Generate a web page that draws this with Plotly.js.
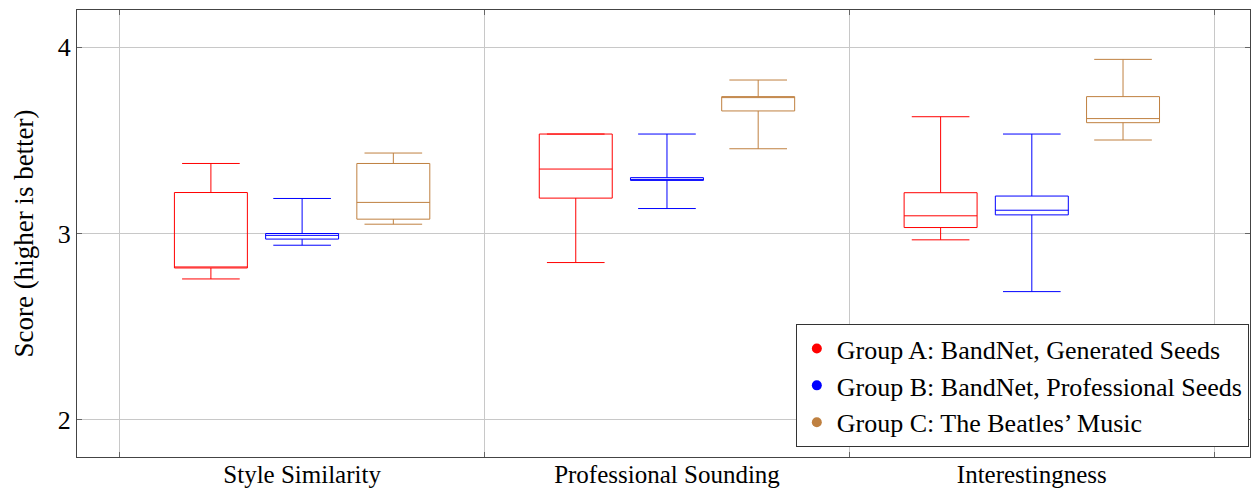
<!DOCTYPE html>
<html>
<head>
<meta charset="utf-8">
<script src="https://cdn.plot.ly/plotly-3.0.1.min.js"></script>
<style>html,body{margin:0;padding:0;background:#fff;}#chart{width:1255px;height:491px;}</style>
</head>
<body>
<div id="chart"></div>
<script>
const categories = ["Style Similarity", "Professional Sounding", "Interestingness"];
const groupNames = ["Group A: BandNet, Generated Seeds", "Group B: BandNet, Professional Seeds", "Group C: The Beatles\u2019 Music"];
const groupColors = ["#ff0000", "#0000ff", "#bf8040"];

// per group: values for [Style Similarity, Professional Sounding, Interestingness]
const groupA_lower  = [2.756, 2.844, 2.966];
const groupA_q1     = [2.815, 3.190, 3.032];
const groupA_median = [2.815, 3.346, 3.095];
const groupA_q3     = [3.220, 3.534, 3.219];
const groupA_upper  = [3.376, 3.534, 3.627];

const groupB_lower  = [2.937, 3.134, 2.688];
const groupB_q1     = [2.970, 3.285, 3.100];
const groupB_median = [2.990, 3.290, 3.125];
const groupB_q3     = [3.000, 3.300, 3.201];
const groupB_upper  = [3.188, 3.534, 3.534];

const groupC_lower  = [3.050, 3.455, 3.502];
const groupC_q1     = [3.077, 3.658, 3.595];
const groupC_median = [3.167, 3.735, 3.617];
const groupC_q3     = [3.376, 3.735, 3.735];
const groupC_upper  = [3.432, 3.824, 3.935];

const yTicks = [2, 3, 4];

const groups = [
  [groupA_lower, groupA_q1, groupA_median, groupA_q3, groupA_upper],
  [groupB_lower, groupB_q1, groupB_median, groupB_q3, groupB_upper],
  [groupC_lower, groupC_q1, groupC_median, groupC_q3, groupC_upper]
];
const offsets = [-0.25, 0, 0.25];
const font = "Liberation Serif, Times New Roman, serif";

const traces = [];
groups.forEach((g, i) => {
  traces.push({
    type: "box",
    x: categories.map((c, k) => k + offsets[i]),
    lowerfence: g[0], q1: g[1], median: g[2], q3: g[3], upperfence: g[4],
    width: 0.2,
    whiskerwidth: 0.79,
    line: {color: groupColors[i], width: 1},
    fillcolor: "rgba(255,255,255,0)",
    showlegend: false,
    hoverinfo: "skip",
    name: groupNames[i]
  });
});
groups.forEach((g, i) => {
  traces.push({
    type: "scatter", mode: "markers",
    x: [null], y: [null],
    marker: {color: groupColors[i], size: 10, symbol: "circle"},
    name: groupNames[i],
    showlegend: true
  });
});

const layout = {
  width: 1255, height: 491,
  margin: {l: 77, r: 5, t: 10, b: 34},
  paper_bgcolor: "#fff", plot_bgcolor: "#fff",
  font: {family: font, size: 26, color: "#000"},
  showlegend: true,
  legend: {
    x: 0.999, xanchor: "right", y: 0.022, yanchor: "bottom",
    bordercolor: "#333", borderwidth: 1, bgcolor: "#fff",
    font: {family: font, size: 26, color: "#000"},
    itemwidth: 30, tracegroupgap: 0
  },
  xaxis: {
    range: [-0.617, 2.598],
    tickvals: categories.map((c, k) => k),
    ticktext: categories,
    ticks: "", showgrid: false, zeroline: false,
    showline: true, linecolor: "#444", linewidth: 1, mirror: "ticks",
    tickfont: {family: font, size: 25, color: "#000"},
    ticklabelstandoff: -5,
    minor: {
      tickvals: [-0.5, 0.5, 1.5, 2.5],
      showgrid: true, gridcolor: "#c8c8c8", gridwidth: 1,
      ticks: "inside", ticklen: 5, tickcolor: "#666"
    }
  },
  yaxis: {
    range: [1.8, 4.2],
    tickvals: yTicks,
    ticktext: yTicks.map(String),
    showgrid: true, gridcolor: "#c8c8c8", gridwidth: 1, zeroline: false,
    showline: true, linecolor: "#444", linewidth: 1, mirror: "ticks",
    ticks: "inside", ticklen: 5, tickcolor: "#666",
    tickfont: {family: font, size: 26, color: "#000"},
    title: {text: "Score (higher is better)", font: {family: font, size: 27, color: "#000"}, standoff: 16}
  }
};

Plotly.newPlot("chart", traces, layout, {displayModeBar: false, staticPlot: true});
</script>
</body>
</html>
